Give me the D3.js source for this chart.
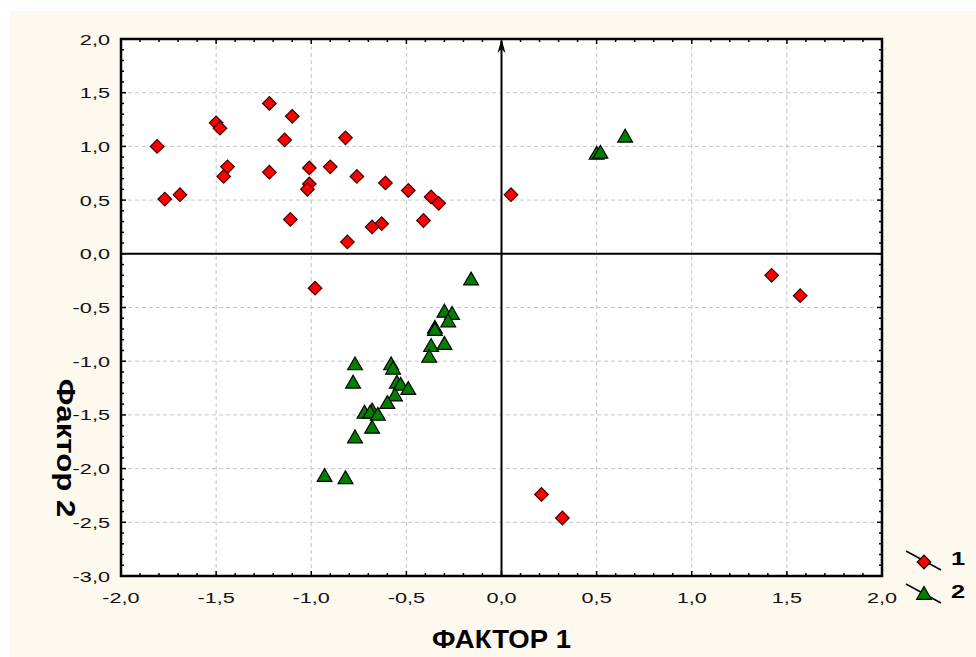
<!DOCTYPE html>
<html>
<head>
<meta charset="utf-8">
<script src="https://cdn.jsdelivr.net/npm/d3@7"></script>
<style>
  body { margin: 0; background: #fff; }
  text { font-family: "Liberation Sans", Arial, sans-serif; }
</style>
</head>
<body>
<div id="chart"></div>
<script>
// group 1 (red diamonds)
const group1X = [-1.81, -1.77, -1.69, -1.50, -1.48, -1.44, -1.46, -1.22, -1.10, -1.14, -1.22, -1.01, -1.01, -1.02, -1.11,
  -0.90, -0.82, -0.76, -0.61, -0.49, -0.37, -0.33, -0.41, -0.63, -0.68, -0.81, -0.98, 0.05, 1.42, 1.57, 0.21, 0.32];
const group1Y = [1.00, 0.51, 0.55, 1.22, 1.17, 0.81, 0.72, 1.40, 1.28, 1.06, 0.76, 0.80, 0.65, 0.60, 0.32,
  0.81, 1.08, 0.72, 0.66, 0.59, 0.53, 0.47, 0.31, 0.28, 0.25, 0.11, -0.32, 0.55, -0.20, -0.39, -2.24, -2.46];
// group 2 (green triangles)
const group2X = [-0.16, -0.30, -0.26, -0.28, -0.35, -0.35, -0.37, -0.30, -0.38, -0.77, -0.58, -0.57, -0.78, -0.55, -0.53,
  -0.49, -0.56, -0.60, -0.72, -0.68, -0.69, -0.65, -0.68, -0.77, -0.93, -0.82, 0.50, 0.52, 0.65];
const group2Y = [-0.25, -0.55, -0.57, -0.64, -0.70, -0.72, -0.87, -0.85, -0.97, -1.04, -1.04, -1.08, -1.21, -1.21, -1.23,
  -1.27, -1.33, -1.40, -1.49, -1.47, -1.49, -1.51, -1.63, -1.72, -2.08, -2.10, 0.92, 0.93, 1.08];
const xTicks = [-2.0, -1.5, -1.0, -0.5, 0.0, 0.5, 1.0, 1.5, 2.0];
const yTicks = [2.0, 1.5, 1.0, 0.5, 0.0, -0.5, -1.0, -1.5, -2.0, -2.5, -3.0];
const legendLabels = ["1", "2"];

const w = 976, h = 657;
const padL = 121, padR = 882, padT = 39, padB = 576;

const svg = d3.select('#chart').append('svg')
  .attr('width', w).attr('height', h);

svg.append('rect')
  .attr('x', 10).attr('y', 11).attr('width', w - 10).attr('height', h - 11)
  .attr('fill', '#fdf9ef');

const xScale = d3.scaleLinear().domain([-2, 2]).range([padL, padR]);
const yScale = d3.scaleLinear().domain([-3, 2]).range([padB, padT]);
const fmt = (d) => d3.format('.1f')(d).replace('.', ',').replace('−', '-');

svg.append('rect')
  .attr('x', padL).attr('y', padT)
  .attr('width', padR - padL).attr('height', padB - padT)
  .attr('fill', '#fff');

// grid
svg.append('g').selectAll('line')
  .data(xTicks.slice(1, -1))
  .enter().append('line')
  .attr('x1', (d) => xScale(d)).attr('x2', (d) => xScale(d))
  .attr('y1', padT).attr('y2', padB)
  .attr('stroke', '#c4c4c4').attr('stroke-dasharray', '4,3');
svg.append('g').selectAll('line')
  .data(yTicks.slice(1, -1))
  .enter().append('line')
  .attr('y1', (d) => yScale(d)).attr('y2', (d) => yScale(d))
  .attr('x1', padL).attr('x2', padR)
  .attr('stroke', '#c4c4c4').attr('stroke-dasharray', '4,3');

// zero lines
svg.append('line')
  .attr('x1', padL).attr('x2', padR)
  .attr('y1', yScale(0)).attr('y2', yScale(0))
  .attr('stroke', '#000').attr('stroke-width', 2);
svg.append('line')
  .attr('x1', xScale(0)).attr('x2', xScale(0))
  .attr('y1', padB).attr('y2', padT + 2)
  .attr('stroke', '#000').attr('stroke-width', 2);
svg.append('path')
  .attr('d', `M${xScale(0)},${padT} l-4,14 l4,-4 l4,4 z`)
  .attr('fill', '#000');

// minor / major ticks inside the frame
const xMinor = d3.range(-20, 21).map((d) => d / 10);
const yMinor = d3.range(-30, 21).map((d) => d / 10);
const isMajor = (d) => Math.abs(Math.round(d * 10)) % 5 === 0;
const ticksG = svg.append('g').attr('stroke', '#000').attr('stroke-width', 1.5);
xMinor.forEach((d) => {
  const len = isMajor(d) ? 5 : 3;
  ticksG.append('line').attr('x1', xScale(d)).attr('x2', xScale(d)).attr('y1', padB).attr('y2', padB - len);
  ticksG.append('line').attr('x1', xScale(d)).attr('x2', xScale(d)).attr('y1', padT).attr('y2', padT + len);
});
yMinor.forEach((d) => {
  const len = isMajor(d) ? 5 : 3;
  ticksG.append('line').attr('y1', yScale(d)).attr('y2', yScale(d)).attr('x1', padL).attr('x2', padL + len);
  ticksG.append('line').attr('y1', yScale(d)).attr('y2', yScale(d)).attr('x1', padR).attr('x2', padR - len);
});

// frame
svg.append('rect')
  .attr('x', padL).attr('y', padT)
  .attr('width', padR - padL).attr('height', padB - padT)
  .attr('fill', 'none').attr('stroke', '#000').attr('stroke-width', 2.5);

// tick labels (the original text is stretched horizontally)
svg.append('g').selectAll('text')
  .data(xTicks)
  .enter().append('text')
  .attr('transform', (d) => `translate(${xScale(d)},${padB + 27}) scale(1.4,1)`)
  .attr('text-anchor', 'middle')
  .attr('font-size', 15.5)
  .attr('fill', '#111')
  .text(fmt);
svg.append('g').selectAll('text')
  .data(yTicks)
  .enter().append('text')
  .attr('transform', (d) => `translate(${padL - 11},${yScale(d) + 5.5}) scale(1.4,1)`)
  .attr('text-anchor', 'end')
  .attr('font-size', 15.5)
  .attr('fill', '#111')
  .text(fmt);

// axis titles
svg.append('text')
  .attr('transform', `translate(${xScale(0)},648) scale(1.1,1)`)
  .attr('text-anchor', 'middle')
  .attr('font-size', 25).attr('font-weight', 'bold')
  .text('ФАКТОР 1');
svg.append('text')
  .attr('transform', `translate(57, 448) rotate(90) scale(1.2,1)`)
  .attr('text-anchor', 'middle')
  .attr('font-size', 26).attr('font-weight', 'bold')
  .text('Фактор 2');

const diamond = d3.symbol().type(d3.symbolSquare).size(92);
const triangle = d3.symbol().type(d3.symbolTriangle).size(95);

const data1 = group1X.map((x, i) => ({ x: x, y: group1Y[i] }));
const data2 = group2X.map((x, i) => ({ x: x, y: group2Y[i] }));

svg.append('g').selectAll('path')
  .data(data2)
  .enter().append('path')
  .attr('d', triangle)
  .attr('transform', (d) => `translate(${xScale(d.x)},${yScale(d.y)})`)
  .attr('fill', '#008000').attr('stroke', '#000').attr('stroke-width', 1.2);

svg.append('g').selectAll('path')
  .data(data1)
  .enter().append('path')
  .attr('d', diamond)
  .attr('transform', (d) => `translate(${xScale(d.x)},${yScale(d.y)}) rotate(45)`)
  .attr('fill', '#ff0000').attr('stroke', '#3a0000').attr('stroke-width', 1.2);

// legend
const legend = svg.append('g');
legendLabels.forEach((lab, i) => {
  const y0 = 551 + i * 33;
  legend.append('line')
    .attr('x1', 906).attr('y1', y0).attr('x2', 941).attr('y2', y0 + 19)
    .attr('stroke', '#000').attr('stroke-width', 1.5);
  legend.append('path')
    .attr('d', i === 0 ? diamond : triangle)
    .attr('transform', `translate(924,${y0 + 11}) ${i === 0 ? 'rotate(45)' : ''}`)
    .attr('fill', i === 0 ? '#ff0000' : '#008000')
    .attr('stroke', '#000').attr('stroke-width', 1.2);
  legend.append('text')
    .attr('transform', `translate(951,${y0 + 14}) scale(1.45,1)`)
    .attr('font-size', 17.5).attr('font-weight', 'bold')
    .text(lab);
});
</script>
</body>
</html>
